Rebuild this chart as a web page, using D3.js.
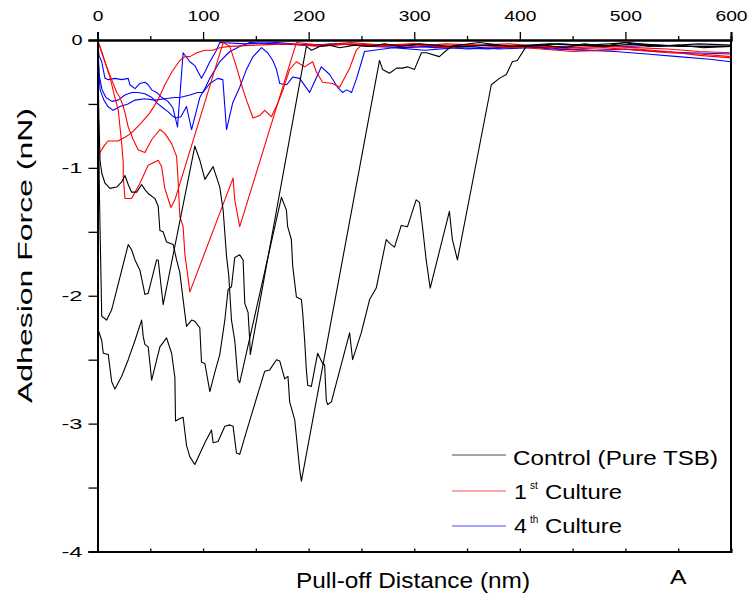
<!DOCTYPE html>
<html>
<head>
<meta charset="utf-8">
<script src="https://cdn.jsdelivr.net/npm/d3@7"></script>
<style>
  body { margin: 0; background: #fff; }
  svg { display: block; }
  text { font-family: "Liberation Sans", Arial, sans-serif; fill: #000; }
</style>
</head>
<body>
<svg id="chart" width="749" height="601"></svg>
<script>
// ---------------------------------------------------------------------------
// Data (pull-off distance in nm, adhesion force in nN)
// ---------------------------------------------------------------------------
const xMajorTicks = [0, 100, 200, 300, 400, 500, 600];
const xMinorTicks = [50, 150, 250, 350, 450, 550];
const yMajorTicks = [0, -1, -2, -3, -4];
const yMinorTicks = [-0.5, -1.5, -2.5, -3.5];

// Control (Pure TSB)
const control1 = [[0,0],[1.4,-0.63],[2.4,-0.94],[4.0,-1.04],[7.1,-1.12],[11.8,-1.16],[18.2,-1.15],[22.9,-1.11],[26.0,-1.06],[29.1,-1.13],[32.3,-1.19],[37.1,-1.19],[41.8,-1.13],[44.9,-1.17],[48.0,-1.20],[54.4,-1.24],[57.5,-1.30],[59.1,-1.49],[62.2,-1.50],[65.4,-1.58],[68.6,-1.59],[71.7,-1.60],[74.9,-1.72],[78.0,-1.82],[81.1,-2.03],[84.3,-2.24],[89.1,-2.19],[92.2,-2.20],[96.9,-2.25],[98.5,-2.52],[101.7,-2.53],[106.4,-2.75],[111.1,-2.60],[115.8,-2.46],[120.6,-2.19],[123.7,-1.95],[126.9,-1.93],[130.0,-1.70],[134.7,-1.68],[137.9,-1.72],[139.5,-2.06],[142.6,-2.13],[144.2,-2.35],[144.7,-2.46],[197.8,-0.05],[202.8,-0.08],[210.4,-0.05],[219.9,-0.04],[229.3,-0.06],[243.5,-0.04],[257.7,-0.05],[271.9,-0.03],[286.1,-0.05],[305,-0.03],[333.3,-0.05],[361.7,-0.02],[390,-0.05],[427.9,-0.03],[465.7,-0.04],[503.5,-0.02],[531.9,-0.05],[569.7,-0.03],[600,-0.04]];
const control2 = [[0,0],[1.9,-1.25],[4.0,-2.16],[8.7,-2.19],[13.4,-2.11],[29.1,-1.60],[32.3,-1.64],[35.5,-1.72],[40.2,-1.80],[44.9,-1.99],[48.0,-1.98],[56.0,-1.72],[57.5,-1.72],[62.2,-2.07],[92.2,-0.83],[96.9,-0.94],[101.7,-1.09],[109.5,-0.99],[115.8,-1.15],[119.0,-1.33],[122.2,-1.69],[124.3,-1.84],[126.9,-2.19],[130.0,-2.35],[133.1,-2.66],[134.7,-2.68],[174.2,-1.23],[178.9,-1.33],[180.1,-1.46],[183.6,-1.56],[184.9,-1.77],[188.4,-2.01],[193.1,-2.03],[194.3,-2.13],[196.2,-2.35],[197.8,-2.58],[199.1,-2.70],[202.5,-2.71],[208.5,-2.45],[213.2,-2.53],[215.1,-2.54],[216.7,-2.82],[218.0,-2.85],[221.5,-2.83],[238.8,-2.29],[241.6,-2.50],[249.8,-2.29],[257.7,-2.03],[264.0,-1.94],[273.5,-1.56],[276.6,-1.59],[281.3,-1.62],[287.7,-1.45],[293.6,-1.46],[301.8,-1.25],[305.0,-1.27],[307.8,-1.46],[311.3,-1.72],[315.1,-1.94],[333.3,-1.34],[336.1,-1.56],[340.9,-1.72],[373.0,-0.35],[380.6,-0.30],[387.2,-0.27],[392.9,-0.17],[397.6,-0.16],[406.1,-0.05],[423,-0.04],[442,-0.06],[461,-0.03],[480,-0.05],[499,-0.02],[522,-0.05],[551,-0.04],[574,-0.06],[600,-0.05]];
const control3 = [[0,0],[0.8,-2.27],[4.0,-2.35],[5.5,-2.45],[10.2,-2.46],[13.4,-2.67],[16.5,-2.73],[22.9,-2.63],[29.1,-2.50],[35.5,-2.35],[41.8,-2.19],[43.3,-2.32],[44.9,-2.38],[48.0,-2.40],[51.3,-2.66],[59.1,-2.40],[65.4,-2.33],[70.2,-2.45],[73.3,-2.64],[73.9,-2.98],[78.0,-2.96],[81.1,-2.95],[84.3,-3.17],[87.5,-3.26],[92.2,-3.32],[101.7,-3.15],[108.0,-3.05],[109.5,-3.15],[114.2,-3.14],[120.6,-3.02],[125.3,-3.01],[128.4,-3.02],[131.6,-3.23],[134.7,-3.24],[142.6,-3.02],[152.1,-2.76],[158.4,-2.59],[163.1,-2.58],[169.5,-2.50],[172.6,-2.51],[177.3,-2.65],[180.4,-2.63],[182.0,-2.83],[186.8,-2.97],[191.5,-3.36],[193.1,-3.45],[267.1,-0.16],[270.0,-0.23],[276.6,-0.26],[283.2,-0.22],[288.9,-0.22],[293.6,-0.21],[300.2,-0.23],[306.8,-0.10],[311.5,-0.10],[323.8,-0.13],[330.5,-0.08],[336.1,-0.05],[352,-0.05],[371,-0.04],[399.5,-0.05],[437,-0.03],[475,-0.05],[513,-0.03],[551,-0.05],[600,-0.05]];

// 1st Culture
const culture1a = [[0,0],[0.1,-0.91],[2.4,-0.88],[6.1,-0.83],[9.9,-0.79],[19.4,-0.79],[26.0,-0.76],[31.7,-0.73],[40.2,-0.66],[49.6,-0.57],[57.2,-0.47],[63.8,-0.35],[70.4,-0.25],[78.0,-0.16],[82.7,-0.13],[87.5,-0.13],[94.1,-0.10],[101.7,-0.08],[109.2,-0.08],[115.8,-0.06],[125.3,-0.05],[150,-0.04],[180,-0.03],[210,-0.05],[240,-0.03],[270,-0.04],[300,-0.03],[330,-0.05],[360,-0.04],[390,-0.03],[420,-0.05],[450,-0.06],[480,-0.05],[510,-0.06],[540,-0.07],[570,-0.09],[600,-0.10]];
const culture1b = [[0,0],[2.4,-0.05],[7.1,-0.17],[11.8,-0.29],[16.5,-0.45],[19.7,-0.55],[21.3,-0.68],[22.9,-0.81],[24.4,-0.96],[24.4,-1.07],[26.0,-1.24],[32.3,-1.24],[40.2,-1.12],[48.0,-0.98],[52.8,-0.96],[57.5,-0.94],[60.7,-0.99],[63.8,-1.16],[69.5,-1.31],[73.3,-1.25],[119.0,-0.02],[125.3,-0.05],[131.6,-0.21],[137.9,-0.39],[141.1,-0.47],[147.3,-0.61],[153.7,-0.59],[158.4,-0.55],[164.7,-0.60],[171.0,-0.49],[175.7,-0.39],[182.0,-0.23],[188.4,-0.17],[196.2,-0.21],[203.8,-0.17],[207.3,-0.25],[213.2,-0.33],[222.7,-0.34],[229.3,-0.37],[238.8,-0.22],[245.1,-0.08],[249.8,-0.04],[270,-0.05],[300,-0.03],[330,-0.06],[360,-0.04],[390,-0.05],[420,-0.07],[450,-0.09],[480,-0.08],[510,-0.07],[540,-0.09],[570,-0.12],[600,-0.14]];
const culture1c = [[0,0],[4.0,-0.10],[8.7,-0.21],[13.4,-0.31],[18.2,-0.41],[21.3,-0.45],[24.4,-0.52],[26.0,-0.57],[29.1,-0.68],[33.9,-0.78],[38.6,-0.86],[44.9,-0.88],[51.3,-0.78],[59.1,-0.70],[63.8,-0.73],[70.2,-0.81],[74.9,-0.91],[76.1,-1.06],[78.0,-1.38],[81.1,-1.46],[82.7,-1.67],[87.5,-1.97],[128.4,-1.08],[130.0,-1.25],[134.7,-1.46],[188.4,-0.02],[210,-0.04],[240,-0.02],[270,-0.04],[300,-0.05],[330,-0.03],[360,-0.04],[390,-0.06],[420,-0.05],[450,-0.07],[480,-0.06],[510,-0.08],[540,-0.10],[570,-0.11],[600,-0.13]];

// 4th Culture
const culture4a = [[0,0],[1.4,-0.12],[4.0,-0.17],[7.1,-0.30],[10.2,-0.31],[16.5,-0.30],[22.9,-0.31],[29.1,-0.30],[30.7,-0.35],[35.5,-0.38],[40.2,-0.34],[44.9,-0.33],[48.0,-0.35],[51.3,-0.39],[56.0,-0.41],[61.0,-0.45],[66.7,-0.48],[71.4,-0.53],[75.8,-0.68],[81.1,-0.10],[87.5,-0.17],[92.2,-0.20],[95.3,-0.25],[98.5,-0.30],[101.7,-0.25],[106.4,-0.17],[112.7,-0.08],[115.8,-0.02],[140,-0.03],[170,-0.02],[200,-0.04],[230,-0.03],[260,-0.05],[290,-0.04],[320,-0.06],[350,-0.05],[380,-0.07],[410,-0.06],[440,-0.05],[470,-0.04],[500,-0.05],[530,-0.04],[560,-0.05],[600,-0.05]];
const culture4b = [[0,0],[1.4,-0.27],[4.3,-0.39],[8.0,-0.45],[13.7,-0.48],[19.4,-0.47],[26.0,-0.43],[32.6,-0.41],[38.3,-0.41],[44.9,-0.42],[51.5,-0.45],[57.2,-0.50],[61.9,-0.53],[66.7,-0.56],[70.4,-0.59],[74.2,-0.61],[79.0,-0.60],[84.3,-0.52],[89.1,-0.70],[96.9,-0.45],[101.7,-0.38],[106.4,-0.30],[115.8,-0.17],[125.3,-0.09],[134.7,-0.05],[144.2,-0.02],[170,-0.03],[200,-0.04],[230,-0.03],[260,-0.05],[290,-0.06],[320,-0.05],[350,-0.07],[380,-0.06],[410,-0.05],[440,-0.07],[470,-0.08],[500,-0.07],[530,-0.09],[560,-0.10],[600,-0.11]];
const culture4c = [[0,0],[2.4,-0.39],[6.1,-0.47],[9.9,-0.52],[14.7,-0.55],[21.3,-0.52],[28.8,-0.50],[35.5,-0.47],[44.9,-0.46],[54.4,-0.47],[63.8,-0.46],[73.3,-0.45],[78.0,-0.45],[87.5,-0.43],[95.0,-0.41],[99.8,-0.41],[106.4,-0.34],[113.9,-0.30],[118.7,-0.31],[122.2,-0.70],[128.1,-0.49],[134.7,-0.37],[141.1,-0.23],[147.3,-0.13],[155.3,-0.06],[161.2,-0.10],[166.0,-0.16],[169.5,-0.23],[172.6,-0.34],[179.2,-0.35],[184.9,-0.29],[191.5,-0.30],[200.9,-0.41],[212.0,-0.21],[219.9,-0.27],[227.4,-0.37],[232.1,-0.41],[235.9,-0.39],[240.7,-0.41],[245.4,-0.30],[250.1,-0.17],[252.9,-0.09],[280,-0.06],[310,-0.08],[340,-0.06],[370,-0.07],[400,-0.05],[430,-0.07],[460,-0.08],[490,-0.09],[520,-0.11],[550,-0.13],[580,-0.15],[600,-0.17]];

const seriesColors = ['#000000', '#ff0000', '#0000ff'];

// ---------------------------------------------------------------------------
// Layout
// ---------------------------------------------------------------------------
const width = 749, height = 601;
const plot = { left: 97.5, right: 731, top: 40, bottom: 551.5 };
const FONT = '"Liberation Sans", Arial, sans-serif';

const svg = d3.select('#chart');
svg.append('rect').attr('width', width).attr('height', height).attr('fill', '#fff');

const x = d3.scaleLinear().domain([0, 600]).range([plot.left, plot.right]);
const y = d3.scaleLinear().domain([-4, 0]).range([plot.bottom, plot.top]);

svg.append('defs').append('clipPath').attr('id', 'plotClip')
  .append('rect')
  .attr('x', plot.left).attr('y', plot.top - 1)
  .attr('width', plot.right - plot.left).attr('height', plot.bottom - plot.top + 1);

// Curves
const line = d3.line().x(d => x(d[0])).y(d => y(d[1]));
const curveGroups = [
  { color: seriesColors[2], curves: [culture4a, culture4b, culture4c] },
  { color: seriesColors[1], curves: [culture1a, culture1b, culture1c] },
  { color: seriesColors[0], curves: [control1, control2, control3] }
];
const curvesG = svg.append('g').attr('clip-path', 'url(#plotClip)');
curveGroups.forEach(grp => {
  curvesG.append('g')
    .selectAll('path')
    .data(grp.curves)
    .join('path')
    .attr('d', line)
    .attr('fill', 'none')
    .attr('stroke', grp.color)
    .attr('stroke-width', 1.1)
    .attr('stroke-linejoin', 'round');
});

// Top axis (x) — labels are stretched like the original figure's text
const topAxis = svg.append('g').attr('transform', `translate(0,${plot.top})`)
  .call(d3.axisTop(x).tickValues(xMajorTicks).tickSize(8).tickPadding(11).tickFormat(d3.format('d')));
svg.append('g').attr('transform', `translate(0,${plot.top})`)
  .call(d3.axisTop(x).tickValues(xMinorTicks).tickSize(4).tickFormat(''));
topAxis.selectAll('.tick text')
  .attr('font-size', '15px')
  .attr('lengthAdjust', 'spacingAndGlyphs')
  .attr('textLength', d => String(d).length * 10.7);

// Left axis (y)
const leftAxis = svg.append('g').attr('transform', `translate(${plot.left},0)`)
  .call(d3.axisLeft(y).tickValues(yMajorTicks).tickSize(9).tickPadding(6).tickFormat(d3.format('d')));
svg.append('g').attr('transform', `translate(${plot.left},0)`)
  .call(d3.axisLeft(y).tickValues(yMinorTicks).tickSize(9).tickFormat(''));
leftAxis.selectAll('.tick text')
  .attr('font-size', '15px')
  .text(d => String(d))
  .attr('lengthAdjust', 'spacingAndGlyphs')
  .attr('textLength', d => d === 0 ? 11 : 21);

// Bottom frame with small inward ticks
svg.append('g').attr('transform', `translate(0,${plot.bottom})`)
  .call(d3.axisBottom(x).tickValues(xMajorTicks.concat(xMinorTicks)).tickSize(-3).tickFormat(''));

// Right frame
svg.append('line')
  .attr('x1', plot.right).attr('x2', plot.right)
  .attr('y1', plot.top).attr('y2', plot.bottom)
  .attr('stroke', '#000').attr('stroke-width', 2);

svg.selectAll('.domain').attr('stroke', '#000').attr('stroke-width', 2);
svg.selectAll('.tick line').attr('stroke', '#000').attr('stroke-width', 1.3);
svg.selectAll('.tick text').attr('font-family', FONT).attr('fill', '#000');

// Axis titles
svg.append('text')
  .attr('transform', 'translate(32,403) rotate(-90)')
  .attr('font-size', '21px')
  .attr('lengthAdjust', 'spacingAndGlyphs')
  .attr('textLength', 295)
  .text('Adhesion Force (nN)');

svg.append('text')
  .attr('x', 296).attr('y', 588)
  .attr('font-size', '22px')
  .attr('lengthAdjust', 'spacingAndGlyphs')
  .attr('textLength', 234)
  .text('Pull-off Distance (nm)');

svg.append('text')
  .attr('x', 670).attr('y', 584)
  .attr('font-size', '20px')
  .attr('lengthAdjust', 'spacingAndGlyphs')
  .attr('textLength', 16.5)
  .text('A');

// Legend
const legendRows = [
  { color: seriesColors[0], lineY: 455, base: 465, main: 'Control (Pure TSB)', sup: '', rest: '' },
  { color: seriesColors[1], lineY: 491, base: 498.5, main: '1', sup: 'st', rest: 'Culture' },
  { color: seriesColors[2], lineY: 526, base: 533, main: '4', sup: 'th', rest: 'Culture' }
];
const legend = svg.append('g');
legendRows.forEach(r => {
  legend.append('line')
    .attr('x1', 452).attr('x2', 506)
    .attr('y1', r.lineY).attr('y2', r.lineY)
    .attr('stroke', r.color).attr('stroke-width', 1.1).attr('stroke-opacity', 0.7);
  if (!r.sup) {
    legend.append('text').attr('x', 513).attr('y', r.base)
      .attr('font-size', '21px')
      .attr('lengthAdjust', 'spacingAndGlyphs').attr('textLength', 205)
      .text(r.main);
  } else {
    legend.append('text').attr('x', 514).attr('y', r.base)
      .attr('font-size', '21px')
      .attr('lengthAdjust', 'spacingAndGlyphs').attr('textLength', 13)
      .text(r.main);
    legend.append('text').attr('x', 530).attr('y', r.base - 10)
      .attr('font-size', '10px')
      .text(r.sup);
    legend.append('text').attr('x', 545).attr('y', r.base)
      .attr('font-size', '21px')
      .attr('lengthAdjust', 'spacingAndGlyphs').attr('textLength', 77)
      .text(r.rest);
  }
});
</script>
</body>
</html>
